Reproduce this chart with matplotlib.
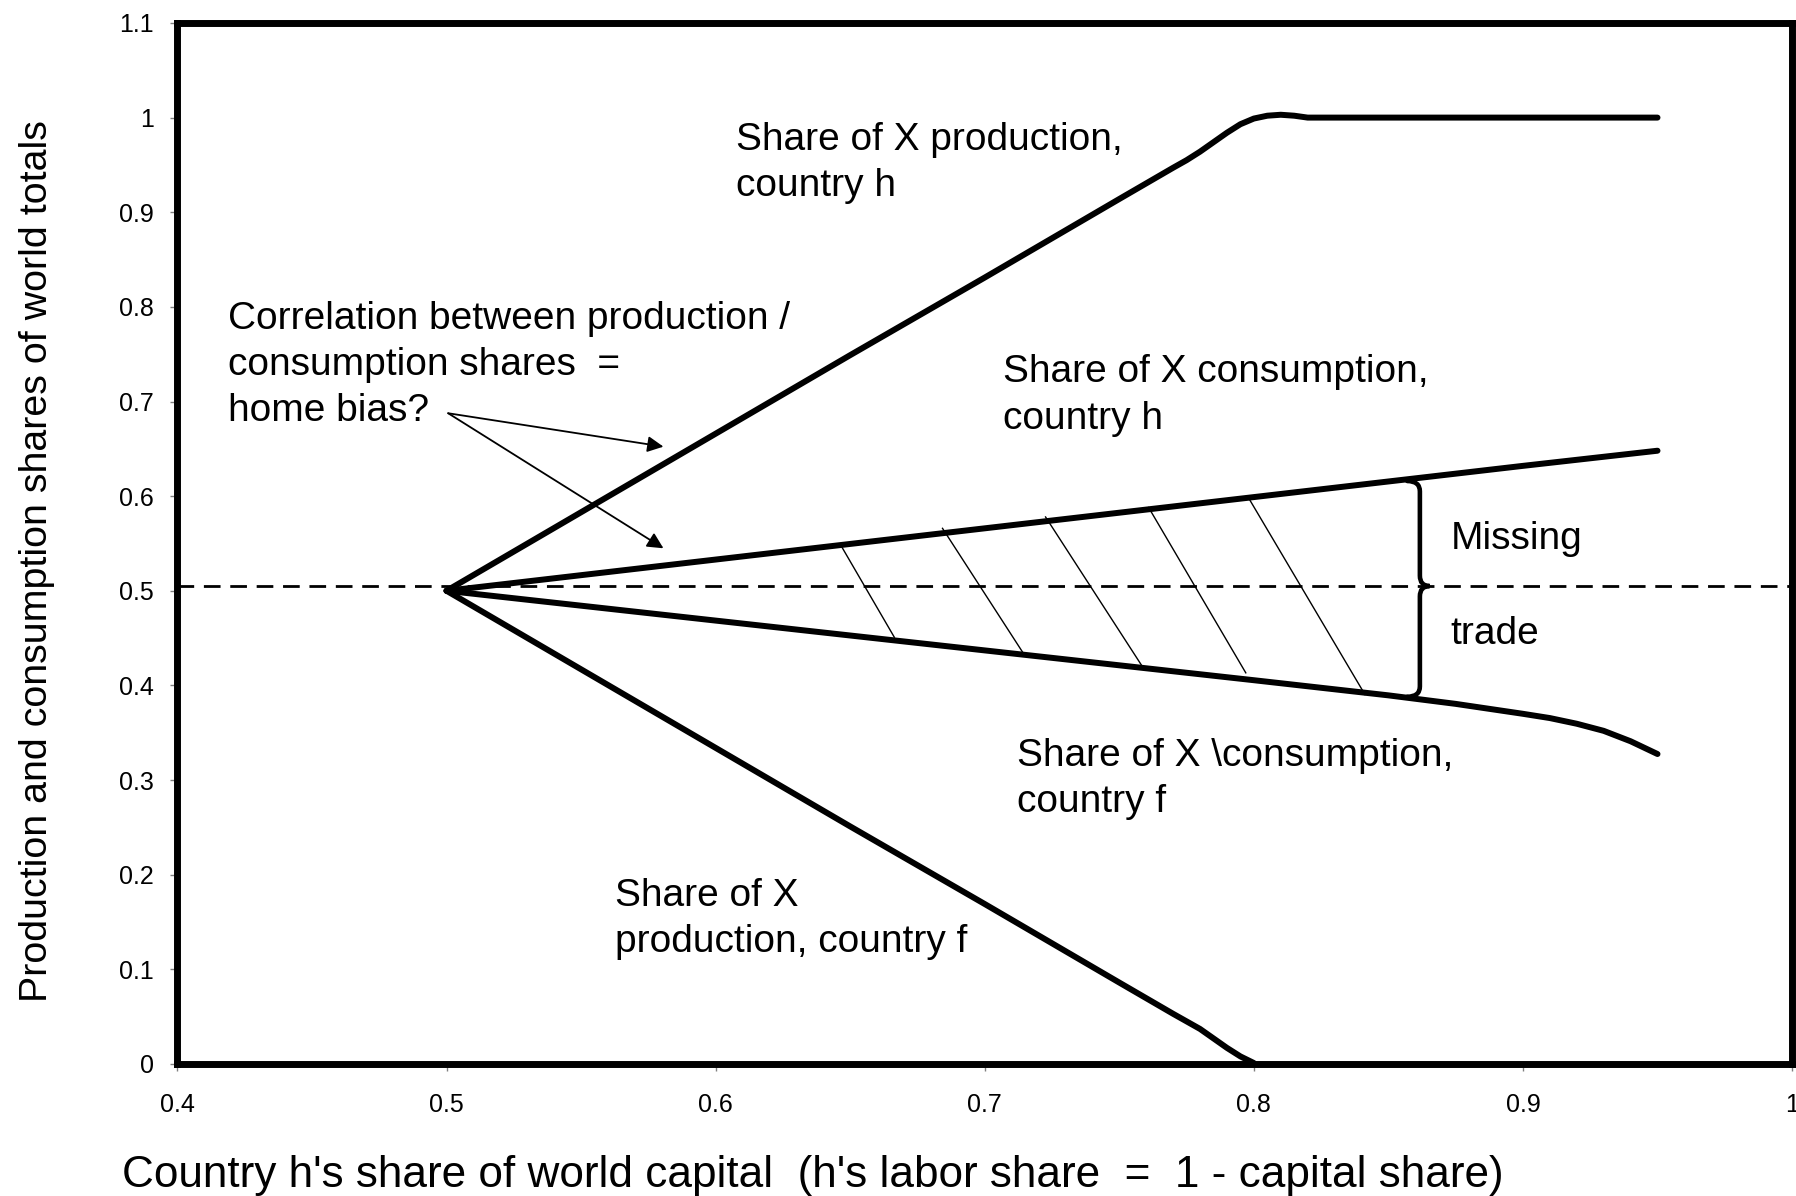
import matplotlib.pyplot as plt
from matplotlib.path import Path
from matplotlib.patches import PathPatch

plt.rcParams["font.family"] = ["Liberation Sans", "DejaVu Sans"]

# curves
prod_h_x = [0.50, 0.55, 0.60, 0.65, 0.70, 0.75, 0.77, 0.775, 0.78, 0.785, 0.79, 0.795,
            0.80, 0.805, 0.81, 0.815, 0.82, 0.83, 0.95]
prod_h_y = [0.500, 0.583, 0.666, 0.749, 0.831, 0.914, 0.947, 0.955, 0.964, 0.974, 0.984, 0.993,
            0.999, 1.002, 1.003, 1.002, 1.000, 1.000, 1.000]

prod_f_x = [0.50, 0.55, 0.60, 0.65, 0.70, 0.75, 0.77, 0.775, 0.78, 0.785, 0.79, 0.795, 0.80]
prod_f_y = [0.500, 0.417, 0.334, 0.251, 0.169, 0.086, 0.053, 0.045, 0.037, 0.027, 0.017, 0.008, 0.001]

cons_h_x = [0.50, 0.60, 0.70, 0.80, 0.90, 0.95]
cons_h_y = [0.500, 0.533, 0.566, 0.599, 0.632, 0.648]

cons_f_x = [0.50, 0.60, 0.70, 0.80, 0.825, 0.85, 0.875, 0.90, 0.91, 0.92, 0.93, 0.94, 0.95]
cons_f_y = [0.500, 0.4685, 0.437, 0.4055, 0.3975, 0.3895, 0.3805, 0.370, 0.3655, 0.3595,
            0.352, 0.341, 0.3275]

ref_level = 0.505

# hatch lines between the consumption curves (top end, bottom end)
hatch_top = [(0.6468, 0.5467), (0.6843, 0.566), (0.7226, 0.578), (0.7609, 0.588), (0.7979, 0.5988)]
hatch_bot = [(0.6664, 0.4509), (0.7149, 0.4315), (0.7587, 0.4194), (0.797, 0.4133), (0.8413, 0.3903)]

x_ticks = [0.4, 0.5, 0.6, 0.7, 0.8, 0.9, 1.0]
x_tick_labels = ["0.4", "0.5", "0.6", "0.7", "0.8", "0.9", "1"]
y_ticks = [0, 0.1, 0.2, 0.3, 0.4, 0.5, 0.6, 0.7, 0.8, 0.9, 1.0, 1.1]
y_tick_labels = ["0", "0.1", "0.2", "0.3", "0.4", "0.5", "0.6", "0.7", "0.8", "0.9", "1", "1.1"]

fig = plt.figure(figsize=(17.96, 11.96), dpi=100)
ax = fig.add_axes([0.0988, 0.1104, 0.8990, 0.8704])

lw = 4.3
for xs, ys in [(prod_h_x, prod_h_y), (prod_f_x, prod_f_y), (cons_h_x, cons_h_y), (cons_f_x, cons_f_y)]:
    ax.plot(xs, ys, color="black", lw=lw, solid_capstyle="round", solid_joinstyle="round")

ax.axhline(ref_level, color="black", lw=2, dashes=(6, 3.5))

for (x0, y0), (x1, y1) in zip(hatch_top, hatch_bot):
    ax.plot([x0, x1], [y0, y1], color="black", lw=1)

# curly brace for "Missing trade"
bx_end, bx_mid, bx_tip = 0.857, 0.8617, 0.8653
by_top, by_bot = 0.616, 0.388
r = 0.011
verts = [
    (bx_end, by_top), (bx_mid, by_top), (bx_mid, by_top - r),
    (bx_mid, ref_level + r), (bx_mid, ref_level), (bx_tip, ref_level),
    (bx_mid, ref_level), (bx_mid, ref_level - r),
    (bx_mid, by_bot + r), (bx_mid, by_bot), (bx_end, by_bot),
]
codes = [Path.MOVETO, Path.CURVE3, Path.CURVE3,
         Path.LINETO, Path.CURVE3, Path.CURVE3,
         Path.CURVE3, Path.CURVE3,
         Path.LINETO, Path.CURVE3, Path.CURVE3]
ax.add_patch(PathPatch(Path(verts, codes), fill=False, lw=3.3, color="black", capstyle="round"))

fs = 28
ls = 1.37
ax.text(0.6077, 0.952, "Share of X production,\ncountry h", fontsize=fs, va="center", linespacing=ls)
ax.text(0.4187, 0.7385, "Correlation between production /\nconsumption shares  =\nhome bias?",
        fontsize=fs, va="center", linespacing=ls)
ax.text(0.7068, 0.7063, "Share of X consumption,\ncountry h", fontsize=fs, va="center", linespacing=ls)
ax.text(0.8732, 0.555, "Missing", fontsize=fs, va="center")
ax.text(0.8732, 0.4545, "trade", fontsize=fs, va="center")
ax.text(0.7119, 0.3012, "Share of X \\consumption,\ncountry f", fontsize=fs, va="center", linespacing=ls)
ax.text(0.5626, 0.1533, "Share of X\nproduction, country f", fontsize=fs, va="center", linespacing=ls)

arrow_props = dict(arrowstyle="-|>", color="black", lw=1.3, mutation_scale=24, shrinkA=0, shrinkB=0)
ax.annotate("", xy=(0.5806, 0.6523), xytext=(0.5006, 0.6876), arrowprops=arrow_props)
ax.annotate("", xy=(0.5806, 0.5449), xytext=(0.5006, 0.6876), arrowprops=arrow_props)

ax.set_xlim(0.4, 1.0)
ax.set_ylim(0, 1.1)
ax.set_xticks(x_ticks, x_tick_labels)
ax.set_yticks(y_ticks, y_tick_labels)
ax.tick_params(direction="out", length=5, width=1, color="#808080", labelsize=18)
ax.tick_params(axis="x", pad=16)
ax.tick_params(axis="y", pad=12)
for sp in ax.spines.values():
    sp.set_linewidth(5)

fig.text(0.0205, 0.531, "Production and consumption shares of world totals",
         rotation=90, fontsize=28.4, ha="center", va="center")
fig.text(0.4528, 0.0175, "Country h's share of world capital  (h's labor share  =  1 - capital share)",
         fontsize=31.8, ha="center", va="center")

fig.savefig("out.png", dpi=100)
